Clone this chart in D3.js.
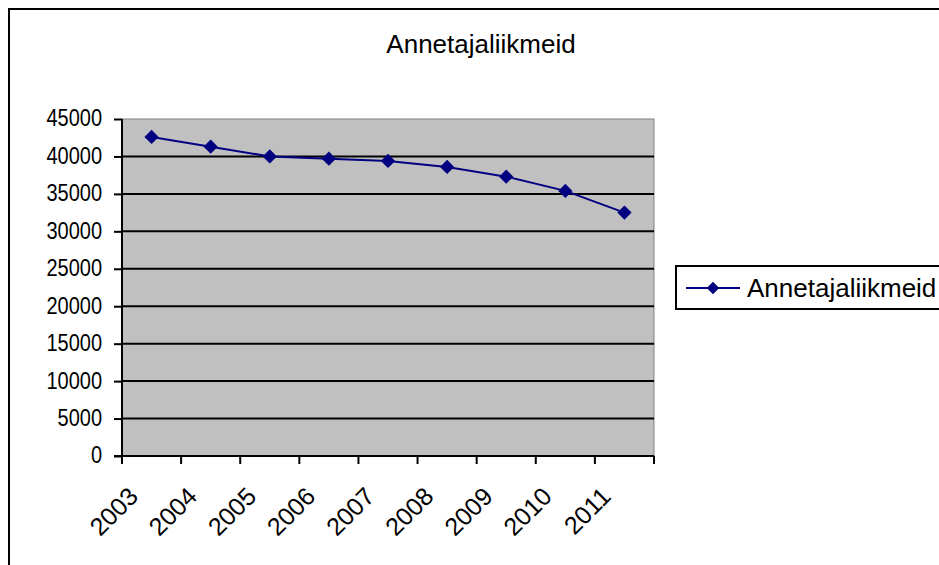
<!DOCTYPE html>
<html>
<head>
<meta charset="utf-8">
<script src="https://cdn.jsdelivr.net/npm/d3@7/dist/d3.min.js"></script>
<style>
  body { margin: 0; background: #fff; }
  svg { display: block; font-family: "Liberation Sans", Arial, sans-serif; }
</style>
</head>
<body>
<div id="chart"></div>
<script>
const title = "Annetajaliikmeid";
const years = ["2003", "2004", "2005", "2006", "2007", "2008", "2009", "2010", "2011"];
const values = [42600, 41300, 40000, 39700, 39400, 38600, 37300, 35400, 32500];
const yTicks = [0, 5000, 10000, 15000, 20000, 25000, 30000, 35000, 40000, 45000];

const width = 939;
const height = 565;
const plot = { left: 122, right: 654, top: 119, bottom: 456 };

const svg = d3.select("#chart").append("svg")
  .attr("width", width)
  .attr("height", height);

// outer chart border (runs off the right and bottom edges)
svg.append("rect")
  .attr("x", 9).attr("y", 9)
  .attr("width", 1000).attr("height", 1000)
  .attr("fill", "none")
  .attr("stroke", "#000")
  .attr("stroke-width", 2);

svg.append("text")
  .attr("x", 481).attr("y", 53)
  .attr("text-anchor", "middle")
  .style("font-size", "26px")
  .text(title);

const x = d3.scaleBand().domain(years).range([plot.left, plot.right]);
const y = d3.scaleLinear().domain([0, 45000]).range([plot.bottom, plot.top]);

// plot area
svg.append("rect")
  .attr("x", plot.left).attr("y", plot.top)
  .attr("width", plot.right - plot.left).attr("height", plot.bottom - plot.top)
  .attr("fill", "#c0c0c0")
  .attr("stroke", "#808080")
  .attr("stroke-width", 1);

// gridlines
svg.append("g")
  .selectAll("line")
  .data(yTicks.filter(d => d > 0 && d < 45000))
  .join("line")
  .attr("x1", plot.left).attr("x2", plot.right)
  .attr("y1", d => y(d)).attr("y2", d => y(d))
  .attr("stroke", "#000")
  .attr("stroke-width", 2);

// y axis
const yAxis = svg.append("g")
  .attr("transform", `translate(${plot.left},0)`)
  .call(d3.axisLeft(y).tickValues(yTicks).tickSize(8).tickPadding(12).tickFormat(d3.format("d")));
yAxis.select(".domain").attr("stroke-width", 2).attr("d", `M0,${plot.top}V${plot.bottom}`);
yAxis.selectAll(".tick line").attr("stroke-width", 2);
yAxis.selectAll("text")
  .style("font-size", "20px")
  .attr("transform", "scale(1,1.15)")
  .attr("dy", "0.3em")
  .attr("fill", "#000");

// x axis: ticks on category boundaries
const bounds = years.map(d => x(d)).concat([plot.right]);
const xg = svg.append("g");
xg.append("line")
  .attr("x1", plot.left - 8).attr("x2", plot.right)
  .attr("y1", plot.bottom).attr("y2", plot.bottom)
  .attr("stroke", "#000").attr("stroke-width", 2);
xg.selectAll(".xtick")
  .data(bounds)
  .join("line")
  .attr("class", "xtick")
  .attr("x1", d => d).attr("x2", d => d)
  .attr("y1", plot.bottom).attr("y2", plot.bottom + 8)
  .attr("stroke", "#000").attr("stroke-width", 2);
xg.selectAll(".xlabel")
  .data(years)
  .join("text")
  .attr("class", "xlabel")
  .attr("text-anchor", "end")
  .attr("transform", d => `translate(${x(d) + x.bandwidth() / 2 - 12},498) rotate(-45)`)
  .style("font-size", "25px")
  .text(d => d);

// series line
const line = d3.line()
  .x((d, i) => x(years[i]) + x.bandwidth() / 2)
  .y(d => y(d));

svg.append("path")
  .datum(values)
  .attr("d", line)
  .attr("fill", "none")
  .attr("stroke", "#000080")
  .attr("stroke-width", 2);

const diamond = d3.symbol().type(d3.symbolDiamond2).size(130);
svg.selectAll(".pt")
  .data(values)
  .join("path")
  .attr("class", "pt")
  .attr("transform", (d, i) => `translate(${x(years[i]) + x.bandwidth() / 2},${y(d)})`)
  .attr("d", diamond)
  .attr("fill", "#000080");

// legend
const lg = svg.append("g");
lg.append("rect")
  .attr("x", 676).attr("y", 266)
  .attr("width", 300).attr("height", 43)
  .attr("fill", "#fff")
  .attr("stroke", "#000")
  .attr("stroke-width", 2);
lg.append("line")
  .attr("x1", 686).attr("x2", 740)
  .attr("y1", 288).attr("y2", 288)
  .attr("stroke", "#000080").attr("stroke-width", 2);
lg.append("path")
  .attr("transform", "translate(713,288)")
  .attr("d", d3.symbol().type(d3.symbolDiamond2).size(100))
  .attr("fill", "#000080");
lg.append("text")
  .attr("x", 747).attr("y", 288)
  .attr("dy", "0.35em")
  .style("font-size", "26px")
  .text(title);
</script>
</body>
</html>
